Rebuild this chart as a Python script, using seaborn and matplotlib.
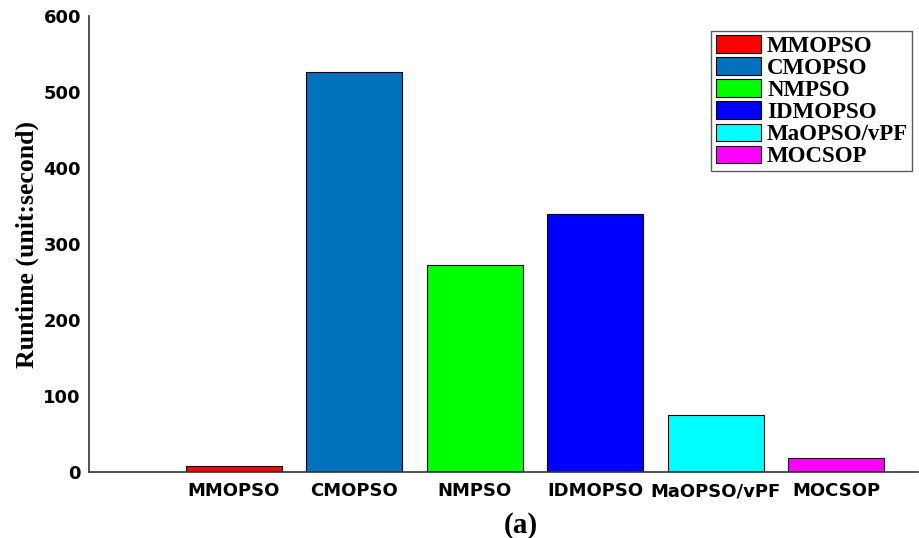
import matplotlib
matplotlib.use("Agg")
import matplotlib.pyplot as plt
import seaborn as sns
import pandas as pd

# Runtime of each algorithm (seconds)
algorithms = ["MMOPSO", "CMOPSO", "NMPSO", "IDMOPSO", "MaOPSO/vPF", "MOCSOP"]
runtimes = [8, 527, 273, 340, 75, 19]
bar_colors = ["#FF0000", "#0072BD", "#00FF00", "#0000FF", "#00FFFF", "#FF00FF"]
y_ticks = [0, 100, 200, 300, 400, 500, 600]

sns.set_theme(style="white")
plt.rcParams["font.family"] = ["DejaVu Sans"]
plt.rcParams["text.color"] = "black"
plt.rcParams["axes.labelcolor"] = "black"

df = pd.DataFrame({"algorithm": algorithms, "runtime": runtimes})

fig = plt.figure(figsize=(9.2, 5.38), dpi=100)
ax = fig.add_axes([0.097, 0.122, 0.901, 0.848])

sns.barplot(data=df, x="algorithm", y="runtime", hue="algorithm",
            palette=bar_colors, saturation=1, width=0.8, dodge=False,
            edgecolor="black", linewidth=0.8, legend=False, ax=ax)

ax.set_axisbelow(True)
ax.set_xlim(-1.2, 5.68)
ax.set_ylim(0, 600)
ax.set_yticks(y_ticks)
ax.set_yticklabels([str(t) for t in y_ticks])

for side in ("top", "right"):
    ax.spines[side].set_visible(False)
for side in ("left", "bottom"):
    ax.spines[side].set_color("#333333")
    ax.spines[side].set_linewidth(1.2)

ax.tick_params(axis="both", direction="in", length=6.5, width=1.0,
               color="#7f7f7f", labelcolor="black")
ax.tick_params(axis="y", pad=6)
ax.tick_params(axis="x", pad=7)
for lbl in ax.get_xticklabels() + ax.get_yticklabels():
    lbl.set_fontsize(13)
    lbl.set_fontweight("bold")
    lbl.set_family("DejaVu Sans")

ax.set_xlabel("")
ax.set_ylabel("Runtime (unit:second)", family="Liberation Serif",
              fontweight="bold", fontsize=18.5, labelpad=3, color="black")

leg = ax.legend(handles=list(ax.patches), labels=algorithms,
                loc="upper right", bbox_to_anchor=(0.993, 0.967),
                borderaxespad=0, fancybox=False, frameon=True,
                prop={"family": "Liberation Serif", "weight": "bold", "size": 16.5},
                handlelength=2.0, handleheight=0.78, handletextpad=0.25,
                labelspacing=0.02, borderpad=0.18)
leg.get_frame().set_edgecolor("#333333")
leg.get_frame().set_linewidth(1.0)
for t in leg.get_texts():
    t.set_color("black")

fig.text(0.566, 0.024, "(a)", ha="center", va="center", color="black",
         family="Liberation Serif", fontweight="bold", fontsize=21)

fig.savefig("out.png", dpi=100, facecolor="white")
